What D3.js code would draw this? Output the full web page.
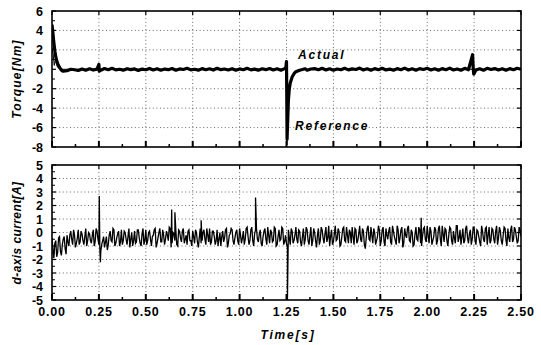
<!DOCTYPE html>
<html><head><meta charset="utf-8">
<script src="https://cdn.jsdelivr.net/npm/d3@7"></script>
<style>body{margin:0;background:#fff}svg{display:block}</style>
</head><body><svg id="c" width="541" height="345"></svg>
<script>
// ---------- DATA ----------
const xTicks = [0, 0.25, 0.5, 0.75, 1.0, 1.25, 1.5, 1.75, 2.0, 2.25, 2.5];
const xTickLabels = ["0.00","0.25","0.50","0.75","1.00","1.25","1.50","1.75","2.00","2.25","2.50"];
const torqueTicks = [6, 4, 2, 0, -2, -4, -6, -8];
const currentTicks = [5, 4, 3, 2, 1, 0, -1, -2, -3, -4, -5];

// torque (actual) ripple, sampled every 0.02 s from 0 to 2.5 s
const torqueStep = 0.02;
const torqueRipple = [0,0,0,0,0,-0.15,-0.05,-0.12,0.03,-0.1,
 0.05,-0.08,0.02,-0.1,0.08,-0.04,0.1,-0.06,0.0,-0.09,
 0.06,-0.03,0.04,-0.12,0.02,-0.05,0.09,-0.07,0.05,-0.1,
 0.02,-0.04,0.08,-0.1,0.04,-0.02,0.1,-0.06,0.0,-0.09,
 0.07,-0.05,0.05,-0.08,0.1,-0.04,0.03,-0.07,0.06,-0.1,
 0.04,-0.05,0.1,-0.06,0.02,-0.09,0.05,-0.04,0.08,-0.07,
 0.05,-0.1,0.07,0.0,-0.06,0.1,-0.05,0.04,-0.1,0.03,
 0.07,-0.04,0.1,-0.07,0.05,-0.09,0.03,-0.05,0.1,-0.06,
 0.04,-0.02,0.12,-0.07,0.05,-0.1,0.07,-0.04,0.1,-0.07,
 0.02,-0.1,0.07,-0.05,0.12,-0.07,0.05,-0.09,0.07,-0.02,
 0.1,-0.07,0.05,-0.1,0.07,-0.04,0.12,-0.07,0.03,-0.1,
 0.1,-0.05,0.07,-0.07,0.05,-0.1,0.1,-0.02,0.07,-0.07,
 0.05,-0.1,0.07,-0.05,0.1,0.0];
// actual torque transients (time, value)
const actualStartT = [0, 0.004, 0.008, 0.012, 0.016, 0.02, 0.025, 0.03, 0.04, 0.05, 0.06, 0.08, 0.1];
const actualStartV = [4.6, 3.9, 3.1, 2.4, 1.8, 1.3, 0.9, 0.6, 0.2, -0.1, -0.2, -0.15, 0.0];
const actualStepT = [1.246, 1.25, 1.2515, 1.253, 1.256, 1.26, 1.265, 1.27, 1.28, 1.29, 1.30, 1.32, 1.35];
const actualStepV = [0.1, 0.8, -3.0, -7.2, -5.5, -3.2, -2.0, -1.4, -0.8, -0.45, -0.25, -0.1, 0.05];
const actualSpikeT = [0.25, 0.252, 2.242, 2.245, 2.248];
const actualSpikeV = [0.5, -0.2, 1.5, 0.2, -0.5];
// reference torque (time, value)
const refT = [0, 0.006, 0.012, 0.018, 0.024, 0.03, 0.04, 0.06, 1.25, 1.252, 1.256, 1.26, 1.265, 1.275, 1.29, 1.31, 1.34, 2.5];
const refV = [2.2, 1.6, 0.4, 1.0, 0.5, 0.2, 0.1, 0, 0, -7.8, -6.0, -3.5, -2.0, -1.0, -0.4, -0.1, 0, 0];

// d-axis current, sampled every 0.01 s from 0 to 2.5 s
const currentStep = 0.01;
const currentValues = [
 -0.4,-1.9,-0.6,-1.5,-0.3,-1.7,-0.5,-1.2,-0.2,-1.0,
 0.1,-0.9,-0.2,-0.8,0.2,-0.7,-0.1,-0.9,0.3,-0.6,
 -0.1,-0.8,0.2,-0.7,0.1,-0.9,-1.4,-0.6,-1.1,-0.3,
 -0.9,0.1,-0.7,0.2,-0.8,-0.1,-1.0,0.2,-0.6,0.0,
 -0.9,0.3,-0.5,-1.0,0.1,-0.7,0.2,-0.8,-0.1,-0.9,
 0.2,-0.6,0.1,-1.0,-0.2,0.3,-0.8,0.0,-0.7,0.2,
 -0.9,0.1,-0.6,0.3,-0.8,-0.1,0.2,-1.0,0.1,-0.7,
 0.3,-0.5,-0.9,0.2,-0.6,0.1,-0.8,0.0,-1.1,0.3,
 -0.6,0.2,-0.9,-0.2,0.3,-0.7,0.1,-0.9,0.2,-0.5,
 -1.0,0.1,-0.4,0.3,-0.8,-0.1,0.2,-0.9,0.0,-0.6,
 0.3,-0.8,0.1,-0.5,0.4,-0.9,0.2,-0.6,-0.1,0.3,
 -0.7,0.2,-1.0,0.1,-0.5,0.4,-0.8,0.0,-0.6,0.3,
 -0.9,0.2,-0.5,0.3,-0.7,-0.8,0.2,-0.9,0.1,-0.6,
 0.4,-0.8,0.1,-1.0,0.3,-0.5,0.2,-0.9,0.4,-0.6,
 0.0,-1.1,0.3,-0.6,0.2,-0.8,0.4,-0.4,-1.0,0.2,
 -0.7,0.5,-0.5,0.1,-0.9,0.3,-0.6,0.4,-0.8,0.0,
 0.4,-0.9,0.2,-0.6,0.5,-0.7,0.1,-1.2,0.3,-0.5,
 0.4,-0.8,0.0,-0.6,0.5,-1.0,0.2,-0.7,0.3,-0.5,
 0.4,-0.9,0.1,-0.6,0.5,-0.8,0.2,-1.1,0.3,-0.4,
 0.5,-0.7,0.0,-0.9,0.4,-0.6,0.2,-1.0,0.3,-0.5,
 0.5,-0.8,0.1,-0.6,0.4,-0.9,0.3,-0.5,0.5,-0.7,
 0.2,-1.0,0.4,-0.6,0.1,-0.8,0.5,-0.4,-0.9,0.3,
 -0.6,0.5,-0.8,0.2,-0.5,0.4,-0.9,0.1,-0.7,0.5,
 -0.5,0.3,-0.9,0.4,-0.6,0.2,-0.8,0.5,-0.4,0.1,
 -0.9,0.4,-0.6,0.3,-0.7,0.5,-0.5,0.2,-0.8,0.4,
 -0.3];
// d-axis current, in-between samples at 0.005 s + k*0.01 s
const currentOffset = 0.005;
const currentValuesB = [
 -1.2,-0.8,-1.8,-0.4,-1.4,-0.9,-0.3,-1.6,-0.7,-0.2,
 -0.5,0.2,-1.1,-0.4,-0.9,0.1,-0.6,-0.3,-1.0,0.0,
 -0.6,-0.2,-1.0,0.3,-0.5,-1.2,-0.9,-0.3,-0.7,-1.3,
 -0.2,-0.6,0.3,-1.0,-0.4,0.1,-0.7,-0.9,0.1,-0.5,
 -0.3,-1.1,0.0,-0.6,-0.8,0.2,-0.4,-1.0,0.3,-0.6,
 -0.9,0.0,-0.5,-0.3,0.2,-1.1,-0.4,0.3,-0.7,-0.2,
 -0.5,-0.2,0.4,-1.1,0.0,-0.6,-0.9,0.2,-0.4,0.1,
 -0.8,-0.2,0.1,-0.6,-1.0,-0.3,0.2,-0.7,-0.4,-0.8,
 0.0,-0.5,0.3,-0.7,-0.9,0.1,-0.3,-0.6,-1.0,0.0,
 -0.3,-0.7,0.2,-1.1,-0.2,0.3,-0.6,-0.4,0.2,-0.9,
 -0.2,-0.4,-0.9,0.3,-0.3,-0.6,0.4,-1.0,0.2,-0.5,
 -0.1,-0.8,-0.3,0.3,-0.9,-0.2,0.2,-0.7,0.4,-1.0,
 -0.3,-0.6,0.4,-0.9,-0.2,-1.1,-0.4,0.3,-0.8,-0.2,
 -0.5,0.2,-0.7,-0.3,-0.9,0.4,-0.6,-0.2,-1.0,0.3,
 -0.6,-0.2,-0.9,0.4,-0.4,-0.1,-0.7,0.5,-0.3,-0.9,
 -0.1,-0.6,0.3,-1.0,-0.3,0.4,-0.7,-0.2,0.2,-0.8,
 -0.3,0.3,-0.8,-0.1,-0.5,0.3,-0.9,-0.4,0.5,-0.6,
 -0.2,0.3,-0.9,-0.3,0.2,-0.6,0.4,-1.0,-0.2,0.1,
 -0.7,0.5,-0.3,-0.9,0.2,-0.4,0.4,-0.8,-0.2,0.3,
 -0.6,0.2,-1.0,-0.1,-0.5,0.4,-0.8,-0.3,0.4,-0.7,
 -0.2,0.4,-0.9,-0.3,0.2,-0.6,0.5,-1.0,-0.1,0.3,
 -0.6,-0.2,0.3,-0.9,-0.4,0.5,-0.7,0.2,-0.3,-0.8,
 0.3,-0.4,-0.1,-0.9,0.4,-0.6,0.2,-0.3,-1.0,0.1,
 -0.7,0.4,-0.2,-0.8,0.3,-0.5,0.1,-0.9,0.4,-0.6,
 -0.2,0.3,-1.0,-0.4,0.2,-0.7,0.4,-0.3,-0.6,0.2];
const currentSpikeT = [0.252, 0.258, 0.638, 0.655, 0.795, 1.085, 1.255, 1.968];
const currentSpikeV = [2.7, -2.2, 1.7, 1.5, 0.9, 2.6, -5.0, 1.1];

// ---------- CHART ----------
const svg = d3.select("#c");
const x = d3.scaleLinear().domain([0, 2.5]).range([52, 521]);
const yT = d3.scaleLinear().domain([-8, 6]).range([147, 11]);
const yC = d3.scaleLinear().domain([-5, 5]).range([300, 165]);
const FONT = "'Liberation Sans', Arial, sans-serif";

function zip(ts, vs) { return ts.map((t, i) => [t, vs[i]]); }
function merge(base, inserts, windows) {
  const kept = base.filter(p => !windows.some(w => p[0] >= w[0] && p[0] <= w[1]));
  return kept.concat(inserts).sort((a, b) => a[0] - b[0]);
}

function panel(y, ticks, minorStep, id) {
  const g = svg.append("g");
  const [y0, y1] = y.domain();
  g.append("g").selectAll("line").data(ticks.filter(v => v !== y0 && v !== y1 && (v !== 0 || id === "c")))
    .join("line").attr("x1", x(0)).attr("x2", x(2.5)).attr("y1", d => y(d)).attr("y2", d => y(d))
    .attr("stroke", "#444").attr("stroke-width", 0.8).attr("stroke-dasharray", "1,2.6");
  g.append("g").selectAll("line").data(xTicks.slice(1, -1))
    .join("line").attr("x1", d => x(d)).attr("x2", d => x(d)).attr("y1", y(y1)).attr("y2", y(y0))
    .attr("stroke", "#444").attr("stroke-width", 0.8).attr("stroke-dasharray", "1,2.6");
  svg.append("clipPath").attr("id", "clip" + id).append("rect")
    .attr("x", x(0)).attr("y", y(y1)).attr("width", x(2.5) - x(0)).attr("height", y(y0) - y(y1));
  const minorX = d3.range(0.125, 2.5, 0.25);
  const tg = g.append("g").attr("stroke", "#000");
  xTicks.forEach(t => {
    tg.append("line").attr("x1", x(t)).attr("x2", x(t)).attr("y1", y(y0)).attr("y2", y(y0) - 6).attr("stroke-width", 2);
    tg.append("line").attr("x1", x(t)).attr("x2", x(t)).attr("y1", y(y1)).attr("y2", y(y1) + 4).attr("stroke-width", 1.2);
  });
  minorX.forEach(t => {
    tg.append("line").attr("x1", x(t)).attr("x2", x(t)).attr("y1", y(y0)).attr("y2", y(y0) - 3).attr("stroke-width", 1.5);
  });
  const minorY = d3.range(y0 + minorStep, y1, minorStep * 2);
  ticks.forEach(v => {
    tg.append("line").attr("x1", x(0)).attr("x2", x(0) + 4).attr("y1", y(v)).attr("y2", y(v)).attr("stroke-width", 1.2);
    tg.append("line").attr("x1", x(2.5)).attr("x2", x(2.5) - 4).attr("y1", y(v)).attr("y2", y(v)).attr("stroke-width", 1.2);
  });
  minorY.forEach(v => {
    tg.append("line").attr("x1", x(0)).attr("x2", x(0) + 3).attr("y1", y(v)).attr("y2", y(v)).attr("stroke-width", 1);
  });
  g.append("g").selectAll("text").data(ticks).join("text")
    .attr("x", 43).attr("y", d => y(d)).attr("dy", "0.36em").attr("text-anchor", "end")
    .attr("font-family", FONT).attr("font-weight", "bold").attr("font-size", 12.5).text(d => d);
  return g;
}

panel(yT, torqueTicks, 1, "t");
panel(yC, currentTicks, 0.5, "c");

const line = y => d3.line().x(d => x(d[0])).y(d => y(d[1]));

// torque curves
const torqueBase = torqueRipple.map((v, i) => [i * torqueStep, v]);
const actual = merge(torqueBase,
  zip(actualStartT, actualStartV).concat(zip(actualStepT, actualStepV), zip(actualSpikeT, actualSpikeV)),
  [[0, 0.1], [1.245, 1.35], [0.245, 0.255], [2.235, 2.255]]);
const ref = zip(refT, refV);
const ct = svg.append("g").attr("clip-path", "url(#clipt)");
ct.append("path").datum(ref).attr("d", line(yT)).attr("fill", "none").attr("stroke", "#000").attr("stroke-width", 1);
ct.append("path").datum(actual).attr("d", line(yT)).attr("fill", "none").attr("stroke", "#000").attr("stroke-width", 3.2).attr("stroke-linejoin", "round");

// current curve
const current = currentValues.map((v, i) => [i * currentStep, v])
  .concat(currentValuesB.map((v, i) => [currentOffset + i * currentStep, v]), zip(currentSpikeT, currentSpikeV))
  .sort((a, b) => a[0] - b[0]);
const cc = svg.append("g").attr("clip-path", "url(#clipc)");
cc.append("path").datum(current).attr("d", line(yC)).attr("fill", "none").attr("stroke", "#000").attr("stroke-width", 1.3);

// borders
[yT, yC].forEach(y => {
  const [y0, y1] = y.domain();
  svg.append("rect").attr("x", x(0)).attr("y", y(y1)).attr("width", x(2.5) - x(0)).attr("height", y(y0) - y(y1))
    .attr("fill", "none").attr("stroke", "#000").attr("stroke-width", 1.6);
});

// x labels
svg.append("g").selectAll("text").data(xTicks).join("text")
  .attr("x", d => x(d)).attr("y", 316).attr("text-anchor", "middle")
  .attr("font-family", FONT).attr("font-weight", "bold").attr("font-size", 12.5).attr("letter-spacing", 0.8)
  .text((d, i) => xTickLabels[i]);

// titles
svg.append("text").attr("x", 288).attr("y", 339).attr("text-anchor", "middle")
  .attr("font-family", FONT).attr("font-weight", "bold").attr("font-style", "italic").attr("font-size", 12)
  .attr("letter-spacing", 1.8).text("Time[s]");
svg.append("text").attr("transform", "translate(21,79) rotate(-90)").attr("text-anchor", "middle")
  .attr("font-family", FONT).attr("font-weight", "bold").attr("font-style", "italic").attr("font-size", 12)
  .attr("letter-spacing", 1.2).text("Torque[Nm]");
svg.append("text").attr("transform", "translate(21,233) rotate(-90)").attr("text-anchor", "middle")
  .attr("font-family", FONT).attr("font-weight", "bold").attr("font-style", "italic").attr("font-size", 12)
  .attr("letter-spacing", 0.4).text("d-axis current[A]");

// annotations
svg.append("text").attr("x", 298).attr("y", 59)
  .attr("font-family", FONT).attr("font-weight", "bold").attr("font-style", "italic").attr("font-size", 12)
  .attr("letter-spacing", 1.8).text("Actual");
svg.append("text").attr("x", 295).attr("y", 130)
  .attr("font-family", FONT).attr("font-weight", "bold").attr("font-style", "italic").attr("font-size", 12)
  .attr("letter-spacing", 1.8).text("Reference");
</script></body></html>
